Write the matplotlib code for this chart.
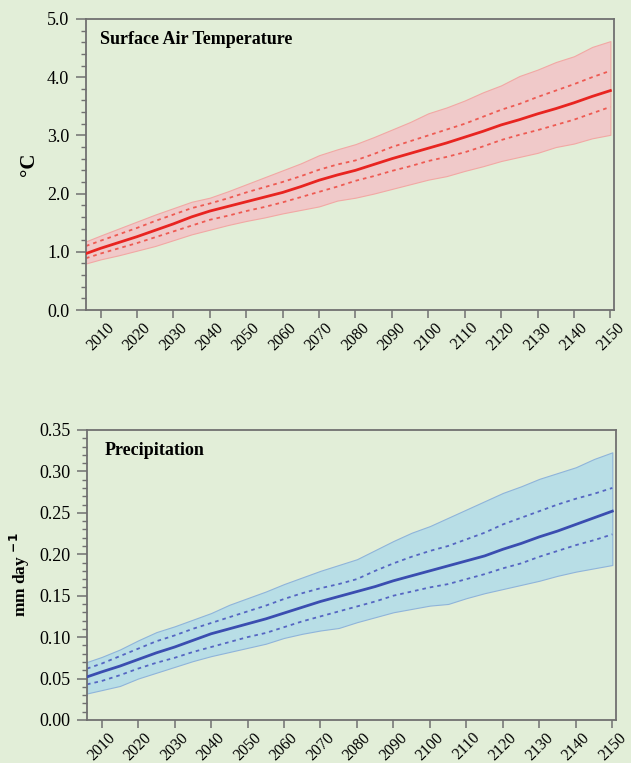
import matplotlib
matplotlib.use("Agg")
import matplotlib.pyplot as plt
from matplotlib.ticker import MultipleLocator, FormatStrFormatter

# === Datos ===
years = [2006, 2010, 2015, 2020, 2025, 2030, 2035, 2040, 2045, 2050,
         2055, 2060, 2065, 2070, 2075, 2080, 2085, 2090, 2095, 2100,
         2105, 2110, 2115, 2120, 2125, 2130, 2135, 2140, 2145, 2150]

# Temperatura del aire en superficie (°C)
tas_mean = [0.97, 1.06, 1.16, 1.26, 1.37, 1.48, 1.60, 1.70, 1.78, 1.86,
            1.94, 2.02, 2.12, 2.23, 2.32, 2.40, 2.50, 2.60, 2.69, 2.78,
            2.87, 2.97, 3.07, 3.18, 3.27, 3.37, 3.46, 3.56, 3.67, 3.77]
tas_up = [1.10, 1.19, 1.30, 1.41, 1.53, 1.64, 1.75, 1.83, 1.92, 2.02,
          2.11, 2.20, 2.30, 2.41, 2.50, 2.57, 2.68, 2.80, 2.90, 3.00,
          3.10, 3.20, 3.32, 3.44, 3.54, 3.66, 3.77, 3.88, 4.00, 4.11]
tas_lo = [0.89, 0.97, 1.06, 1.15, 1.25, 1.35, 1.45, 1.55, 1.62, 1.70,
          1.77, 1.85, 1.94, 2.03, 2.12, 2.22, 2.30, 2.39, 2.47, 2.56,
          2.63, 2.71, 2.81, 2.92, 3.01, 3.09, 3.18, 3.27, 3.38, 3.49]
tas_max = [1.18, 1.28, 1.40, 1.52, 1.64, 1.75, 1.86, 1.93, 2.04, 2.16,
           2.28, 2.40, 2.52, 2.66, 2.76, 2.85, 2.97, 3.10, 3.23, 3.38,
           3.48, 3.60, 3.74, 3.86, 4.02, 4.13, 4.26, 4.36, 4.52, 4.62]
tas_min = [0.80, 0.87, 0.94, 1.02, 1.10, 1.20, 1.30, 1.38, 1.46, 1.53,
           1.59, 1.66, 1.72, 1.78, 1.88, 1.93, 2.00, 2.08, 2.16, 2.24,
           2.30, 2.39, 2.47, 2.56, 2.63, 2.70, 2.80, 2.86, 2.95, 3.01]

# Precipitación (mm/día)
pr_mean = [0.052, 0.058, 0.065, 0.073, 0.081, 0.088, 0.096, 0.104, 0.110, 0.116,
           0.122, 0.129, 0.136, 0.143, 0.149, 0.155, 0.161, 0.168, 0.174, 0.180,
           0.186, 0.192, 0.198, 0.206, 0.213, 0.221, 0.228, 0.236, 0.244, 0.252]
pr_up = [0.062, 0.068, 0.077, 0.086, 0.095, 0.102, 0.110, 0.117, 0.124, 0.131,
         0.138, 0.146, 0.153, 0.159, 0.164, 0.170, 0.180, 0.189, 0.197, 0.204,
         0.210, 0.218, 0.226, 0.236, 0.244, 0.252, 0.260, 0.267, 0.273, 0.280]
pr_lo = [0.043, 0.047, 0.054, 0.062, 0.069, 0.075, 0.082, 0.088, 0.094, 0.100,
         0.105, 0.112, 0.119, 0.125, 0.131, 0.137, 0.143, 0.150, 0.155, 0.160,
         0.164, 0.170, 0.176, 0.183, 0.189, 0.197, 0.204, 0.211, 0.217, 0.224]
pr_max = [0.070, 0.076, 0.085, 0.096, 0.106, 0.113, 0.121, 0.129, 0.139, 0.147,
          0.155, 0.164, 0.172, 0.180, 0.187, 0.194, 0.205, 0.216, 0.226, 0.234,
          0.244, 0.254, 0.264, 0.274, 0.282, 0.291, 0.298, 0.305, 0.315, 0.323]
pr_min = [0.032, 0.036, 0.041, 0.050, 0.057, 0.064, 0.071, 0.077, 0.082, 0.087,
          0.092, 0.099, 0.104, 0.108, 0.111, 0.118, 0.124, 0.130, 0.134, 0.138,
          0.140, 0.147, 0.153, 0.158, 0.163, 0.168, 0.174, 0.179, 0.183, 0.187]

year_ticks = list(range(2010, 2151, 10))

# === Estilo ===
BG = "#e2eed8"
SPINE = "#707070"
plt.rcParams["font.family"] = ["Liberation Serif", "DejaVu Serif"]

fig = plt.figure(figsize=(6.31, 7.63), dpi=100, facecolor=BG)
ax1 = fig.add_axes([0.1363, 0.5937, 0.8368, 0.3814])
ax2 = fig.add_axes([0.1379, 0.0564, 0.8383, 0.3801])


def style_axis(ax, ymax, major, minor, fmt):
    ax.set_facecolor(BG)
    ax.set_xlim(2006, 2151)
    ax.set_ylim(0, ymax)
    ax.set_xticks(year_ticks)
    ax.set_xticklabels([str(y) for y in year_ticks], rotation=45,
                       ha="center", va="top", fontsize=11.5)
    ax.yaxis.set_major_locator(MultipleLocator(major))
    ax.yaxis.set_minor_locator(MultipleLocator(minor))
    ax.yaxis.set_major_formatter(FormatStrFormatter(fmt))
    ax.tick_params(axis="y", which="major", length=7, width=1.1,
                   color=SPINE, labelsize=13, pad=5)
    ax.tick_params(axis="y", which="minor", length=3.5, width=1.0, color=SPINE)
    ax.tick_params(axis="x", which="major", length=6, width=1.1,
                   color=SPINE, pad=1)
    for s in ax.spines.values():
        s.set_color(SPINE)
        s.set_linewidth(1.3)


def draw_panel(ax, mean, up, lo, vmax, vmin, fill_c, edge_c, line_c, dot_c):
    ax.fill_between(years, vmin, vmax, facecolor=fill_c, edgecolor=edge_c,
                    linewidth=0.8, zorder=1)
    ax.plot(years, up, color=dot_c, linestyle=(0, (2, 2.2)), linewidth=1.3, zorder=2)
    ax.plot(years, lo, color=dot_c, linestyle=(0, (2, 2.2)), linewidth=1.3, zorder=2)
    ax.plot(years, mean, color=line_c, linewidth=2.0, zorder=3)


# === Panel superior: temperatura ===
draw_panel(ax1, tas_mean, tas_up, tas_lo, tas_max, tas_min,
           "#f0c9c9", "#f2a8a4", "#e82420", "#ee5a52")
style_axis(ax1, 5.0, 1.0, 0.2, "%.1f")
ax1.text(0.027, 0.96, "Surface Air Temperature", transform=ax1.transAxes,
         fontsize=13, fontweight="bold", va="top", ha="left")
ax1.set_ylabel("°C", fontsize=15, fontweight="bold", labelpad=6)

# === Panel inferior: precipitación ===
draw_panel(ax2, pr_mean, pr_up, pr_lo, pr_max, pr_min,
           "#b8dee6", "#8fb4da", "#3a4db0", "#5566c2")
style_axis(ax2, 0.35, 0.05, 0.01, "%.2f")
ax2.text(0.033, 0.96, "Precipitation", transform=ax2.transAxes,
         fontsize=13, fontweight="bold", va="top", ha="left")
ax2.set_ylabel(r"mm day $^{\mathbf{-1}}$", fontsize=12.5, fontweight="bold", labelpad=5)

fig.savefig("out.png", dpi=100, facecolor=BG)
